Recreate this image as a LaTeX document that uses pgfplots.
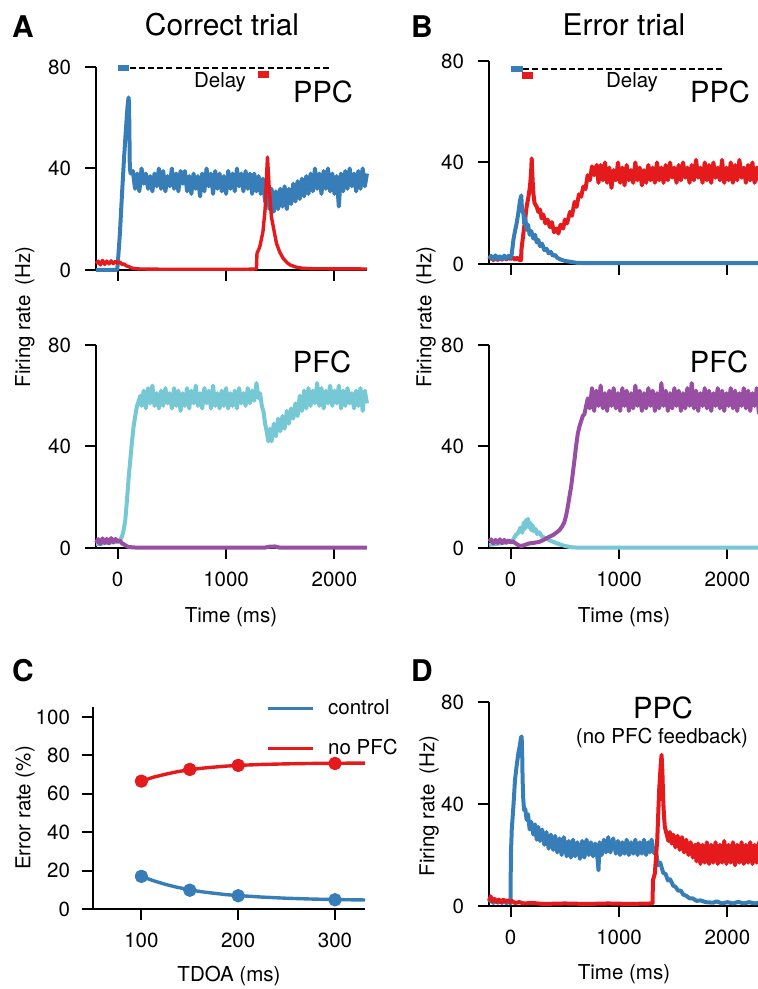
\documentclass[border=0pt]{standalone}
\usepackage{fontspec}
\setmainfont{TeX Gyre Heros}
\usepackage{pgfplots}
\pgfplotsset{compat=1.18}

\definecolor{cblue}{HTML}{377EB8}
\definecolor{cred}{HTML}{E41A1C}
\definecolor{cpurple}{HTML}{984EA3}
\definecolor{ccyan}{HTML}{76C8D4}

\newcommand{\fs}{\fontsize{10.3}{12}\selectfont}

\pgfplotsset{
  panel/.style={
    scale only axis, anchor=south west,
    width=135.5bp, height=101.5bp,
    axis x line*=bottom, axis y line*=left,
    axis line style={line width=1.3bp, -},
    tick style={line width=1bp, black},
    tick align=outside, major tick length=5.5bp,
    xmin=-200, xmax=2300, ymin=0, ymax=80,
    xtick={0,1000,2000}, ytick={0,40,80},
    clip=false,
    tick label style={font=\fs},
    yticklabel style={xshift=-3.5bp},
    xticklabel style={yshift=-3bp},
    /pgf/number format/1000 sep={},
    /pgf/number format/assume math mode=true,
    every axis plot/.append style={line width=1.7bp, line join=round, mark=none},
  },
  notick/.style={xticklabels={,,}},
  noisy/.style={line width=2bp},
}

\begin{document}
\begin{tikzpicture}
\useasboundingbox (0,0) rectangle (379bp,494.5bp);

% ---------- A top: PPC, correct trial
\begin{axis}[panel, notick, at={(48bp,359.5bp)}]
\addplot[cblue, noisy] coordinates {(-200,0) (-5,0) (0,2) (20,14) (40,30) (60,45) (80,58) (90,64) (100,68) (105,66) (112,40) (120,38)
(140,39) (160,32) (180,38) (200,31) (220,40) (240,34) (260,38) (280,32) (300,37) (320,31) (340,38) (360,33) (380,40) (400,32)
(420,39) (440,31) (460,37) (480,33) (500,40) (520,32) (540,38) (560,31) (580,39) (600,34) (620,39) (640,31) (660,37) (680,30)
(700,38) (720,32) (740,37) (760,29) (780,38) (800,31) (820,40) (840,33) (860,38) (880,30) (900,39) (920,32) (940,38) (960,31)
(980,37) (1000,30) (1020,39) (1040,32) (1060,38) (1080,31) (1100,40) (1120,33) (1140,38) (1160,31) (1180,39) (1200,32)
(1220,38) (1240,30) (1260,38) (1280,31) (1300,37) (1320,30) (1340,36) (1360,27) (1380,33) (1400,24) (1420,32) (1440,23)
(1460,31) (1480,24) (1500,32) (1520,25) (1540,33) (1560,24) (1580,32) (1600,26) (1620,34) (1640,27) (1660,35) (1680,28)
(1700,36) (1720,29) (1740,37) (1760,30) (1780,38) (1800,31) (1820,40) (1840,32) (1860,38) (1880,30) (1900,39) (1920,32)
(1940,40) (1960,31) (1980,38) (2000,30) (2020,37) (2040,25) (2060,38) (2080,31) (2100,39) (2120,32) (2140,40) (2160,33)
(2180,38) (2200,31) (2220,39) (2240,32) (2260,40) (2280,33) (2300,38)};
\addplot[cred] coordinates {(-200,2.5) (-180,3.5) (-160,2) (-140,3.8) (-120,2.2) (-100,3.5) (-80,2.4) (-60,3.6) (-40,2.5)
(-20,3.4) (0,2.6) (20,3.2) (40,2.2) (60,2.4) (80,1.6) (100,1.4) (120,0.9) (150,0.6) (200,0.4) (400,0.3) (800,0.3) (1200,0.3)
(1280,0.4) (1285,6.5) (1310,9) (1340,15) (1360,24) (1373,37) (1382,44.5) (1397,33) (1418,21) (1440,16) (1465,10.5) (1495,7)
(1527,4.6) (1560,3) (1590,2) (1640,1.2) (1700,0.7) (1800,0.5) (2300,0.4)};
% task epochs
\addplot[black, line width=1bp, dash pattern=on 3bp off 1.6bp] coordinates {(110,79.6) (1950,79.6)};
\addplot[cblue, line width=3bp] coordinates {(0,79.6) (105,79.6)};
\addplot[cred, line width=3.5bp] coordinates {(1295,77) (1400,77)};
\end{axis}

% ---------- A bottom: PFC, correct trial
\begin{axis}[panel, at={(48bp,220.5bp)}]
\addplot[ccyan, noisy] coordinates {(-200,1.5) (0,2.5) (20,3) (40,4.5) (55,7) (70,11) (86,19) (100,27) (117,35) (132,42) (147,48)
(162,52) (178,56) (195,58) (209,60)
(220,56) (240,62) (260,55) (280,63) (300,57) (320,64) (340,56) (360,61) (380,55) (400,62) (420,56) (440,63) (460,57) (480,61)
(500,55) (520,63) (540,56) (560,62) (580,54) (600,61) (620,56) (640,63) (660,55) (680,62) (700,57) (720,64) (740,56) (760,61)
(780,55) (800,63) (820,57) (840,62) (860,55) (880,64) (900,56) (920,61) (940,55) (960,62) (980,56) (1000,63) (1020,55)
(1040,61) (1060,56) (1080,62) (1100,55) (1120,63) (1140,57) (1160,61) (1180,56) (1200,63) (1220,57) (1240,62) (1260,58)
(1280,65) (1300,59) (1313,61) (1330,56) (1344,54) (1360,49) (1374,46) (1390,42) (1405,47) (1420,42) (1440,49) (1460,44)
(1480,51) (1500,46) (1520,52) (1540,47) (1560,54) (1580,49) (1600,55) (1620,51) (1640,57) (1660,52) (1680,60) (1700,54)
(1720,62) (1740,55) (1760,63) (1780,56) (1800,62) (1820,57) (1840,65) (1860,56) (1880,63) (1900,55) (1920,62) (1940,57)
(1960,64) (1980,56) (2000,62) (2020,57) (2040,64) (2060,55) (2080,62) (2100,56) (2120,63) (2140,57) (2160,61) (2180,55)
(2200,62) (2220,56) (2240,63) (2260,54) (2280,62) (2300,57)};
\addplot[cpurple, noisy] coordinates {(-200,2) (-180,3.5) (-160,1.5) (-140,3.8) (-120,2) (-100,3.6) (-80,1.8) (-60,3.9) (-40,2.2)
(-20,3.6) (0,2.4) (20,3) (40,1.8) (60,1.4) (80,0.8) (100,0.4) (150,0.2) (300,0.1) (1350,0.1) (1400,0.5) (1450,0.6)
(1500,0.1) (2300,0.1)};
\end{axis}

% ---------- B top: PPC, error trial
\begin{axis}[panel, notick, at={(244.5bp,362.5bp)}]
\addplot[cred, noisy] coordinates {(-200,1.8) (-180,2.8) (-160,1.5) (-140,2.9) (-120,1.6) (-100,2.7) (-80,1.7) (-60,3) (-40,1.8)
(-20,2.7) (0,1.9) (20,2.6) (40,1.7) (60,2.5) (80,1.6) (95,1.5) (100,6) (117,12) (132,17) (147,22.6) (162,26) (178,30.5)
(188,36) (194,41.6) (200,35) (209,27.9) (220,24) (240,22.6) (255,20.5) (270,21.5) (285,18) (301,19.5) (320,16) (340,17.5)
(362,14.5) (380,16.5) (400,12.5) (424,14) (440,12) (460,15.5) (485,14) (500,17.5) (520,16) (547,20.5) (565,19) (590,24.5)
(608,22.5) (630,27.5) (650,26.5) (670,30.5) (690,29.5) (710,35) (731,33) (750,38.5) (770,35) (793,39)
(810,32) (830,39) (850,33) (870,40) (890,32) (910,38) (930,30) (950,37) (970,33) (990,40) (1010,32) (1030,38) (1050,31)
(1070,39) (1090,33) (1110,37) (1130,32) (1150,40) (1170,33) (1190,38) (1210,31) (1230,37) (1250,32) (1270,39) (1290,33)
(1310,38) (1330,32) (1350,40) (1370,33) (1390,38) (1410,32) (1430,39) (1450,33) (1470,40) (1490,34) (1510,38) (1530,32)
(1550,39) (1570,33) (1590,40) (1610,34) (1630,38) (1650,32) (1670,39) (1690,33) (1710,41) (1730,34) (1750,38) (1770,32)
(1790,40) (1810,33) (1830,39) (1850,32) (1870,40) (1890,34) (1910,38) (1930,33) (1950,41) (1970,32) (1990,38) (2010,33)
(2030,40) (2050,32) (2070,39) (2090,33) (2110,41) (2130,34) (2150,38) (2170,32) (2190,39) (2210,33) (2230,40) (2250,32)
(2270,38) (2290,33) (2300,37)};
\addplot[cblue, noisy] coordinates {(-200,2.2) (-180,3.2) (-160,1.8) (-140,3.4) (-120,2.0) (-100,3.0) (-80,1.9) (-60,3.3) (-40,2.1)
(-20,3.2) (0,2.5) (10,4) (25,9.5) (40,13) (55,16) (70,20) (86,25) (98,27) (105,21) (117,20) (125,16) (135,18) (147,13.5)
(160,15.5) (175,11.5) (190,13) (209,10) (225,11.5) (240,8.5) (255,9.5) (270,7) (290,8) (310,5.5) (332,6) (350,4.2)
(370,4.8) (390,3.2) (410,3.6) (430,2.4) (460,1.8) (500,1.2) (547,0.9) (600,0.5) (639,0.4) (800,0.3) (2300,0.3)};
% task epochs
\addplot[black, line width=1bp, dash pattern=on 3bp off 1.6bp] coordinates {(115,76.9) (1960,76.9)};
\addplot[cblue, line width=3bp] coordinates {(0,76.9) (110,76.9)};
\addplot[cred, line width=3.5bp] coordinates {(105,74.4) (210,74.4)};
\end{axis}

% ---------- B bottom: PFC, error trial
\begin{axis}[panel, at={(244.5bp,220.5bp)}]
\addplot[ccyan, noisy] coordinates {(-200,1.2) (-100,1.8) (0,2.5) (20,3.2) (46,5) (70,6) (90,8) (108,6) (120,10) (130,7.5) (140,11)
(150,8.5) (160,11.5) (170,8) (180,10) (190,7) (201,9) (215,6.5) (230,7.5) (245,5.5) (263,6.2) (290,4.5) (325,3.7) (370,2.8)
(418,2) (460,1.3) (511,0.7) (560,0.3) (635,0.1) (2300,0.1)};
\addplot[cpurple, noisy] coordinates {(-200,2.5) (-180,3.4) (-160,1.8) (-140,3.2) (-120,2) (-100,3.4) (-80,1.9) (-60,3.2) (-40,2.1)
(-20,3) (0,2.2) (20,2.6) (40,2) (60,1.4) (77,1) (100,0.8) (130,1.2) (170,1.8) (210,2) (263,2.4) (300,3.1) (325,3.7)
(360,4.5) (387,5) (420,6) (449,7) (475,8.5) (495,10.2) (510,12.5) (526,16) (541,20) (557,24) (572,29) (588,34.5) (603,40)
(619,45) (635,48) (650,50) (665,52) (681,52.8) (696,56) (712,59)
(730,55) (750,63) (770,54) (790,62) (810,56) (830,64) (850,55) (870,61) (890,54) (910,62) (930,56) (950,63) (970,55)
(990,61) (1010,54) (1030,63) (1050,56) (1070,62) (1090,54) (1110,61) (1130,55) (1150,64) (1170,56) (1190,62) (1210,54)
(1230,61) (1250,55) (1270,63) (1290,56) (1310,62) (1330,54) (1350,61) (1370,55) (1390,65) (1410,56) (1430,62) (1450,54)
(1470,61) (1490,55) (1510,63) (1530,56) (1550,62) (1570,54) (1590,61) (1610,55) (1630,63) (1650,56) (1670,65) (1690,55)
(1710,62) (1730,54) (1750,61) (1770,56) (1790,63) (1810,55) (1830,62) (1850,54) (1870,61) (1890,56) (1910,63) (1930,55)
(1950,62) (1970,54) (1990,61) (2010,56) (2030,63) (2050,55) (2070,62) (2090,54) (2110,61) (2130,56) (2150,63) (2170,55)
(2190,62) (2210,54) (2230,61) (2250,56) (2270,63) (2290,53) (2300,60)};
\end{axis}

% ---------- C: error rate vs TDOA
\begin{axis}[panel, at={(46.5bp,40bp)}, width=136bp, height=100.8bp,
  xmin=50, xmax=331, ymin=0, ymax=105, xtick={100,200,300}, ytick={0,20,40,60,80,100},
  yticklabel style={xshift=1bp},
  legend style={at={(axis description cs:0.635,1.06)}, anchor=north west, draw=none, fill=none,
    font=\fs, row sep=7bp, column sep=5bp, inner sep=0pt},
  legend cell align=left,
  legend image code/.code={\draw[#1, line width=1.5bp] (0bp,0bp) -- (22.5bp,0bp);}]
\addplot[cblue] coordinates {(100,17) (112,14.8) (125,12.8) (137,11.3) (150,10) (162,9) (175,8.2) (187,7.5) (200,7)
(225,6.2) (250,5.6) (275,5.2) (300,4.9) (331,4.7)};
\addlegendentry{control}
\addplot[cred] coordinates {(100,66.5) (112,68.6) (125,70.2) (137,71.5) (150,72.5) (162,73.3) (175,73.9) (187,74.4)
(200,74.8) (225,75.3) (250,75.6) (275,75.8) (300,75.9) (331,76)};
\addlegendentry{no PFC}
\addplot[cblue, only marks, mark=*, mark size=2.5bp, forget plot] coordinates {(100,17) (150,9.8) (200,6.9) (300,4.8)};
\addplot[cred, only marks, mark=*, mark size=2.5bp, forget plot] coordinates {(100,66.6) (150,72.7) (200,74.8) (300,75.8)};
\end{axis}

% ---------- D: PPC without PFC feedback
\begin{axis}[panel, at={(244.5bp,41.5bp)}, height=102bp]
\addplot[cblue, noisy] coordinates {(-200,1.5) (-180,2.5) (-160,1.2) (-140,2.4) (-120,1.3) (-100,2.2) (-80,1.2) (-60,2.3) (-40,1.1)
(-20,2) (-2,1) (2,20) (10,30) (25,39) (40,49.5) (55,55) (71,60) (85,63) (95,66) (101,66.5) (106,60) (110,49.5) (116,42)
(123,37.7) (135,38) (147,33.8) (160,36) (175,30) (190,33) (209,28) (225,32) (240,26) (255,31) (270,25.5) (290,30) (310,24)
(330,29) (350,22.5) (370,28) (393,22) (410,27.5) (430,21) (450,26.5) (470,20) (490,27) (516,19.5) (535,25.5) (555,19)
(575,26) (595,19.5) (615,25) (639,18.5) (660,25.5) (680,19) (700,26) (720,20) (740,25) (760,19.5) (780,24.5) (800,19)
(810,14) (820,25) (840,20) (860,26) (880,21) (900,27) (920,21) (946,26.5) (970,20.5) (990,25.5) (1010,20) (1030,25)
(1050,20.5) (1070,26) (1090,20) (1110,25) (1130,20.5) (1150,26) (1170,20) (1192,25) (1210,20.5) (1230,26) (1250,20)
(1270,25) (1284,21) (1300,26) (1320,21) (1346,20) (1360,16) (1380,17) (1407,13) (1430,12.5) (1450,10) (1470,10.5)
(1499,8) (1520,7.5) (1545,6) (1570,6) (1591,4.5) (1620,4) (1650,3) (1680,3) (1714,2) (1750,2.2) (1800,1.5) (1868,1.3)
(1900,1.8) (1950,1) (2000,1.5) (2050,1) (2100,1.6) (2150,1) (2200,1.5) (2250,1) (2300,1.4)};
\addplot[cred, noisy] coordinates {(-200,2) (-185,3.8) (-170,1.8) (-150,2.8) (-130,1.6) (-110,2.5) (-90,1.5) (-70,2.4) (-50,1.6)
(-30,2.3) (-10,1.5) (10,2) (40,1.2) (80,1.5) (120,1) (200,1.2) (300,0.8) (500,1) (700,0.8) (900,1) (1100,0.8) (1300,1)
(1309,1) (1312,10) (1330,12.8) (1352,26) (1370,45.7) (1385,56) (1392,59.3) (1400,52) (1407,41.6) (1415,35) (1422,31)
(1440,28) (1455,25.5) (1468,29) (1485,24.5) (1500,28) (1520,23) (1540,27.5) (1560,22) (1580,27) (1600,21) (1620,26)
(1640,20) (1660,25) (1680,19) (1700,24) (1714,17.5) (1730,24.5) (1750,16.5) (1770,24) (1790,17) (1810,25) (1830,16.5)
(1850,24) (1868,17) (1890,25) (1910,16.5) (1930,24) (1950,17) (1970,25.5) (1990,16.5) (2010,24) (2030,17) (2050,25)
(2070,16) (2090,24) (2110,17) (2130,25) (2150,16.5) (2170,24) (2190,17) (2210,25) (2230,16.5) (2250,24) (2270,17)
(2290,25) (2300,20)};
\end{axis}

% ---------- text
\node[font=\fontsize{15}{18}\selectfont\bfseries] at (11.5bp,481bp) {A};
\node[font=\fontsize{15}{18}\selectfont\bfseries] at (211bp,481bp) {B};
\node[font=\fontsize{15}{18}\selectfont\bfseries] at (11.5bp,159bp) {C};
\node[font=\fontsize{15}{18}\selectfont\bfseries] at (211bp,159bp) {D};
\node[font=\fontsize{15}{18}\selectfont] at (111bp,482bp) {Correct trial};
\node[font=\fontsize{15}{18}\selectfont] at (312bp,482bp) {Error trial};
\node[font=\fontsize{14.6}{17}\selectfont] at (161.5bp,448.5bp) {PPC};
\node[font=\fontsize{14.6}{17}\selectfont] at (360bp,448.5bp) {PPC};
\node[font=\fontsize{14.6}{17}\selectfont] at (161bp,313.5bp) {PFC};
\node[font=\fontsize{14.6}{17}\selectfont] at (359.5bp,313.5bp) {PFC};
\node[font=\fontsize{14.6}{17}\selectfont] at (331.5bp,140.5bp) {PPC};
\node[font=\fs] at (331bp,125.5bp) {(no PFC feedback)};
\node[font=\fs] at (110bp,453.5bp) {Delay};
\node[font=\fs] at (316bp,453.5bp) {Delay};
\node[font=\fs, rotate=90] at (12.5bp,336bp) {Firing rate\enspace(Hz)};
\node[font=\fs, rotate=90] at (213bp,336bp) {Firing rate\enspace(Hz)};
\node[font=\fs, rotate=90] at (12.5bp,90.5bp) {Error rate (\%)};
\node[font=\fs, rotate=90] at (214.5bp,91.5bp) {Firing rate\enspace(Hz)};
\node[font=\fs] at (115.5bp,186bp) {Time (ms)};
\node[font=\fs] at (312bp,186bp) {Time (ms)};
\node[font=\fs] at (312bp,7.5bp) {Time (ms)};
\node[font=\fs] at (114.5bp,6.5bp) {TDOA (ms)};
\end{tikzpicture}
\end{document}
